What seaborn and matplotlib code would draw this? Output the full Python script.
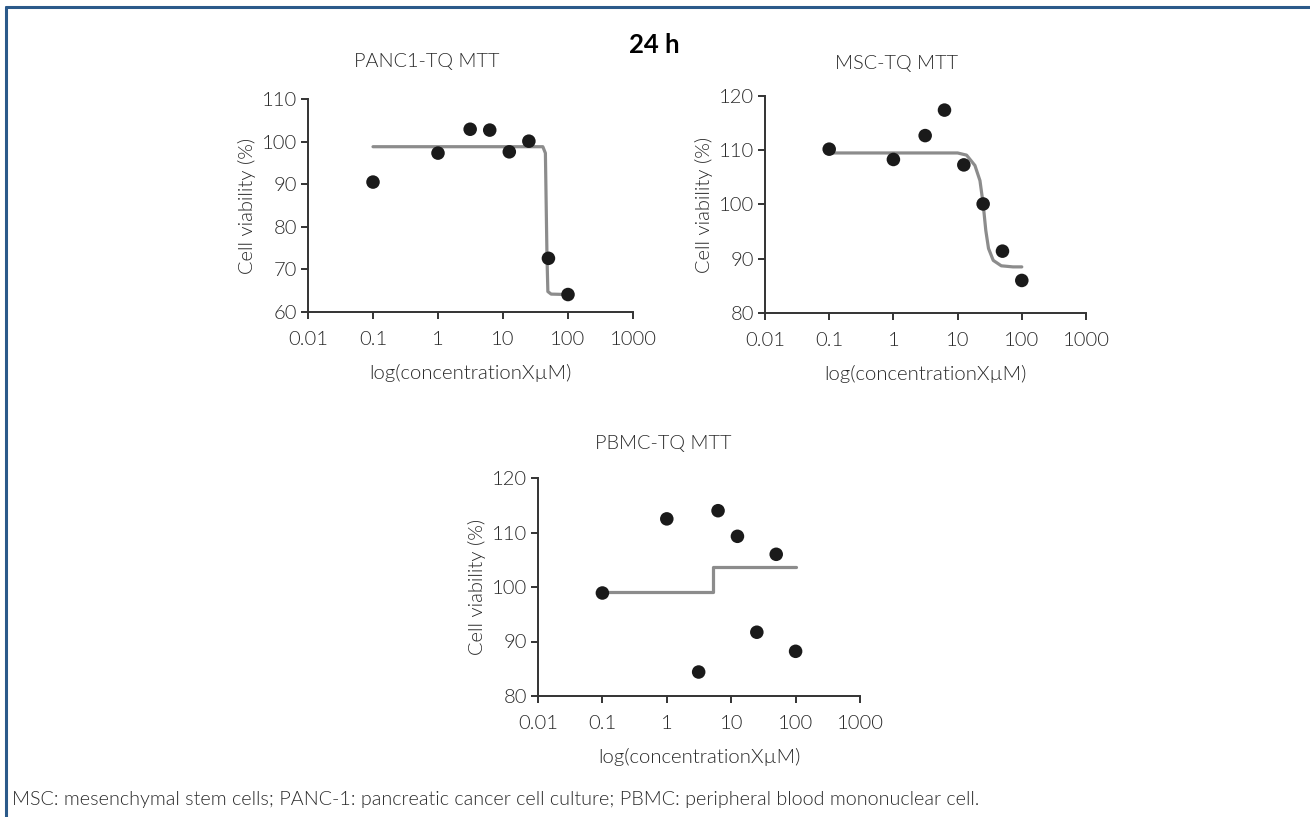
import matplotlib
matplotlib.use("Agg")
import matplotlib.pyplot as plt
import matplotlib.ticker as mticker
import pandas as pd
import seaborn as sns

# concentrations (uM) used for every cell line
conc = [0.1, 1, 3.125, 6.25, 12.5, 25, 50, 100]

# measured viability (%)
panc1_viab = [90.5, 97.3, 102.9, 102.7, 97.6, 100.1, 72.6, 64.1]
msc_viab = [110.2, 108.3, 112.7, 117.4, 107.3, 100.1, 91.4, 86.0]
pbmc_viab = [98.9, 112.5, 84.4, 114.0, 109.3, 91.7, 106.0, 88.2]

# fitted curves
panc1_fit_x = [0.1, 41, 44.9, 47.5, 49, 55, 100]
panc1_fit_y = [98.8, 98.8, 97.3, 73.0, 64.8, 64.2, 64.1]
msc_fit_x = [0.1, 10, 13.8, 18.6, 22.3, 25, 27.5, 30.3, 35.9, 47.9, 72.8, 100]
msc_fit_y = [109.5, 109.5, 109.1, 107.2, 104.4, 100.1, 95.2, 91.9, 89.7, 88.7, 88.5, 88.5]
pbmc_fit_x = [0.1, 5.2, 5.2, 100]
pbmc_fit_y = [99.0, 99.0, 103.6, 103.6]

decades = [0.01, 0.1, 1, 10, 100, 1000]
decade_labels = ["0.01", "0.1", "1", "10", "100", "1000"]

sns.set_theme(style="ticks")
plt.rcParams["font.family"] = ["Lato", "DejaVu Sans"]
plt.rcParams["font.weight"] = 300
plt.rcParams["axes.labelweight"] = 300

fig = plt.figure(figsize=(13.1, 8.17), dpi=100)

INK = "#333333"
TXT = "#2a2a2a"


def panel(rect, title, title_xy, viab, fit_x, fit_y, ylim, yticks):
    ax = fig.add_axes(rect)
    fit = pd.DataFrame({"x": fit_x, "y": fit_y})
    sns.lineplot(data=fit, x="x", y="y", sort=False, ax=ax, color="#8c8c8c",
                 linewidth=2.3, estimator=None)
    pts = pd.DataFrame({"x": conc, "y": viab})
    sns.scatterplot(data=pts, x="x", y="y", ax=ax, color="#1a1a1a", s=95,
                    edgecolor="none", zorder=3, clip_on=False)
    ax.set_xscale("log")
    ax.set_xlim(0.01, 1000)
    ax.set_ylim(*ylim)
    ax.xaxis.set_major_locator(mticker.FixedLocator(decades))
    ax.xaxis.set_major_formatter(mticker.FixedFormatter(decade_labels))
    ax.xaxis.set_minor_locator(mticker.NullLocator())
    ax.set_yticks(yticks)
    sns.despine(ax=ax)
    for s in ("left", "bottom"):
        ax.spines[s].set_color(INK)
        ax.spines[s].set_linewidth(1.4)
    ax.tick_params(axis="both", labelsize=14.5, colors=INK, length=5, width=1.4,
                   labelcolor=TXT)
    ax.tick_params(axis="x", pad=9)
    ax.tick_params(axis="y", pad=3)
    ax.set_xlabel("log(concentrationXµM)", fontsize=14.7, color=TXT,
                  labelpad=11)
    ax.set_ylabel("Cell viability (%)", fontsize=14.5, color=TXT, labelpad=4)
    fig.text(title_xy[0] / 1310, 1 - title_xy[1] / 817, title, ha="center",
             va="center", fontsize=14.3, color=TXT)
    return ax


panel([308 / 1310, 1 - 312 / 817, 325 / 1310, 213 / 817], "PANC1-TQ MTT",
      (427, 62), panc1_viab, panc1_fit_x, panc1_fit_y, (60, 110),
      [60, 70, 80, 90, 100, 110])
panel([765 / 1310, 1 - 313 / 817, 321 / 1310, 217 / 817], "MSC-TQ MTT",
      (897, 63), msc_viab, msc_fit_x, msc_fit_y, (80, 120),
      [80, 90, 100, 110, 120])
panel([538 / 1310, 1 - 696 / 817, 322 / 1310, 218 / 817], "PBMC-TQ MTT",
      (663, 443), pbmc_viab, pbmc_fit_x, pbmc_fit_y, (80, 120),
      [80, 90, 100, 110, 120])

fig.text(654 / 1310, 1 - 45 / 817, "24 h", ha="center", va="center",
         fontsize=18.5, fontweight="bold", color="black")

fig.text(12 / 1310, 1 - 800 / 817,
         "MSC: mesenchymal stem cells; PANC-1: pancreatic cancer cell culture; "
         "PBMC: peripheral blood mononuclear cell.",
         ha="left", va="center", fontsize=14.2, color=TXT)

# frame around the figure (top and left edges visible)
fig.add_artist(plt.Line2D([6 / 1310, 1], [1 - 7 / 817, 1 - 7 / 817],
                          color="#2b5a8a", linewidth=2.2, transform=fig.transFigure))
fig.add_artist(plt.Line2D([6 / 1310, 6 / 1310], [0, 1 - 7 / 817],
                          color="#2b5a8a", linewidth=2.2, transform=fig.transFigure))

fig.savefig("out.png", dpi=100)
